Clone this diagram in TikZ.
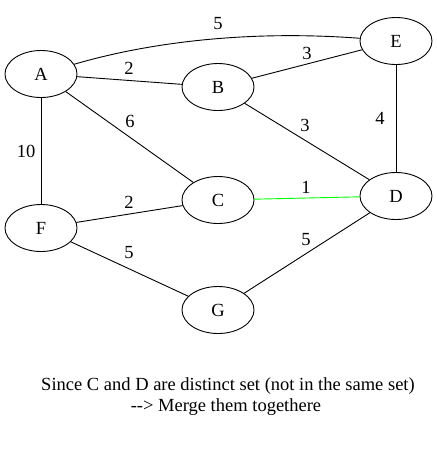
\documentclass[tikz,border=0pt]{standalone}
\usepackage{fontspec}
\setmainfont{Liberation Serif}
\usetikzlibrary{shapes.geometric}
\begin{document}
\begin{tikzpicture}[x=1pt,y=-1pt,
  vert/.style={draw,ellipse,minimum width=72pt,minimum height=47pt,inner sep=0pt,line width=0.9pt,font=\fontsize{18.5}{22}\selectfont},
  wlab/.style={inner sep=0pt,font=\fontsize{18.5}{22}\selectfont},
  edge/.style={line width=0.9pt},
  note/.style={inner sep=0pt,font=\fontsize{18.5}{22}\selectfont}]
\useasboundingbox (0,0) rectangle (437,451);
\node[vert] (A) at (41,74) {A};
\node[vert] (B) at (218,87) {B};
\node[vert] (E) at (396,41) {E};
\node[vert] (C) at (218,200) {C};
\node[vert] (D) at (396,196) {D};
\node[vert] (F) at (41,228) {F};
\node[vert] (G) at (218,310) {G};
\draw[edge] (A) .. controls (150,42) and (250,30) .. (E);
\draw[edge] (A) -- (B);
\draw[edge] (B) -- (E);
\draw[edge] (A) -- (C);
\draw[edge] (B) -- (D);
\draw[edge] (E) -- (D);
\draw[edge] (A) -- (F);
\draw[edge,green] (C) -- (D);
\draw[edge] (F) -- (C);
\draw[edge] (F) -- (G);
\draw[edge] (G) -- (D);
\node[wlab] (lAE) at (218,24) {5};
\node[wlab] (lAB) at (129,68) {2};
\node[wlab] (lBE) at (307,53) {3};
\node[wlab] (lAC) at (130,121) {6};
\node[wlab] (lBD) at (305,125) {3};
\node[wlab] (lED) at (380,118) {4};
\node[wlab] (lAF) at (26,151) {10};
\node[wlab] (lCD) at (306,187) {1};
\node[wlab] (lFC) at (129,202) {2};
\node[wlab] (lFG) at (129,253) {5};
\node[wlab] (lGD) at (306,240) {5};
\node[note,anchor=base] (n1) at (228,390) {Since C and D are distinct set (not in the same set)};
\node[note,anchor=base] (n2) at (226,411) {-{}-> Merge them togethere};
\end{tikzpicture}
\end{document}
